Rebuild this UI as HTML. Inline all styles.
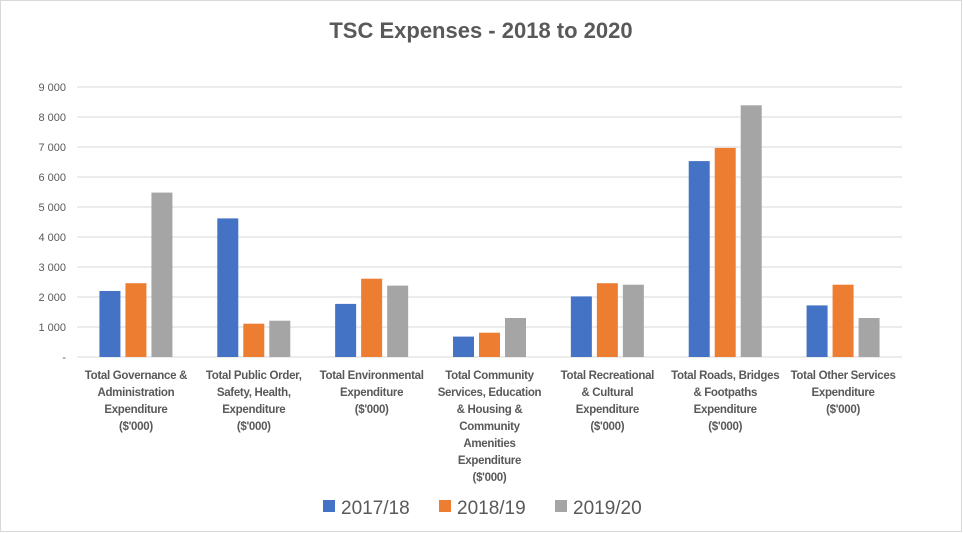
<!DOCTYPE html>
<html><head><meta charset="utf-8"><style>
body{margin:0;background:#fff;}
svg{display:block;font-family:"Liberation Sans",sans-serif;}
</style></head><body>
<svg id="chart" width="963" height="533">
<rect x="0.5" y="0.5" width="961" height="531" fill="#fff" stroke="#d9d9d9"/>
<text x="481" y="38" text-anchor="middle" font-size="22" font-weight="bold" fill="#595959">TSC Expenses - 2018 to 2020</text>
<g id="grid"></g><g id="bars"></g><g id="labels"></g>
<g>
<rect x="323" y="500" width="12" height="12" fill="#4472c4"/>
<text x="341" y="514" font-size="19" fill="#595959">2017/18</text>
<rect x="439" y="500" width="12" height="12" fill="#ed7d31"/>
<text x="457" y="514" font-size="19" fill="#595959">2018/19</text>
<rect x="555" y="500" width="12" height="12" fill="#a5a5a5"/>
<text x="573" y="514" font-size="19" fill="#595959">2019/20</text>
</g>
</svg>
<script>
const categories=[
["Total Governance &","Administration","Expenditure","($'000)"],
["Total Public Order,","Safety, Health,","Expenditure","($'000)"],
["Total Environmental","Expenditure","($'000)"],
["Total Community","Services, Education","& Housing &","Community","Amenities","Expenditure","($'000)"],
["Total Recreational","& Cultural","Expenditure","($'000)"],
["Total Roads, Bridges","& Footpaths","Expenditure","($'000)"],
["Total Other Services","Expenditure","($'000)"]];
const s2017=[2200,4620,1770,680,2020,6530,1720];
const s2018=[2460,1110,2610,810,2460,6970,2410];
const s2019=[5480,1210,2380,1300,2410,8390,1300];
const tickValues=[0,1000,2000,3000,4000,5000,6000,7000,8000,9000];
const tickLabels=["-","1 000","2 000","3 000","4 000","5 000","6 000","7 000","8 000","9 000"];
const NS="http://www.w3.org/2000/svg";
const x0=77,x1=902,y0=357,y1=87,maxV=9000;
const yS=v=>y0-(v/maxV)*(y0-y1);
const gw=(x1-x0)/categories.length;
const xC=i=>x0+gw*(i+0.5);
function mk(t,a,p){const e=document.createElementNS(NS,t);for(const k in a)e.setAttribute(k,a[k]);p.appendChild(e);return e;}
const grid=document.getElementById('grid');
tickValues.forEach((v,i)=>{
 const l=mk('line',{x1:x0,x2:x1,y1:yS(v),y2:yS(v),stroke:'#d9d9d9','stroke-width':1},grid);
 
 
 const t=mk('text',{x:66,y:yS(v)+4,'text-anchor':'end','font-size':11,fill:'#595959'},grid);
 t.textContent=tickLabels[i];
 
 
});
const series=[[s2017,'#4472c4','2017-18'],[s2018,'#ed7d31','2018-19'],[s2019,'#a5a5a5','2019-20']];
const bars=document.getElementById('bars');
const bw=21,step=26;
categories.forEach((c,i)=>{
 series.forEach((s,j)=>{
  const v=s[0][i];
  const r=mk('rect',{x:xC(i)+(j-1)*step-bw/2,y:yS(v),width:bw,height:y0-yS(v),fill:s[1]},bars);
  
  
 });
});
const labels=document.getElementById('labels');
categories.forEach((c,i)=>{
 const t=mk('text',{x:xC(i),y:379,'text-anchor':'middle','font-size':11.5,'font-weight':'bold',fill:'#595959','letter-spacing':'-0.3'},labels);
 
 
 c.forEach((line,k)=>{const ts=mk('tspan',{x:xC(i),y:379+k*17},t);ts.textContent=line;});
});
</script>
</body></html>
